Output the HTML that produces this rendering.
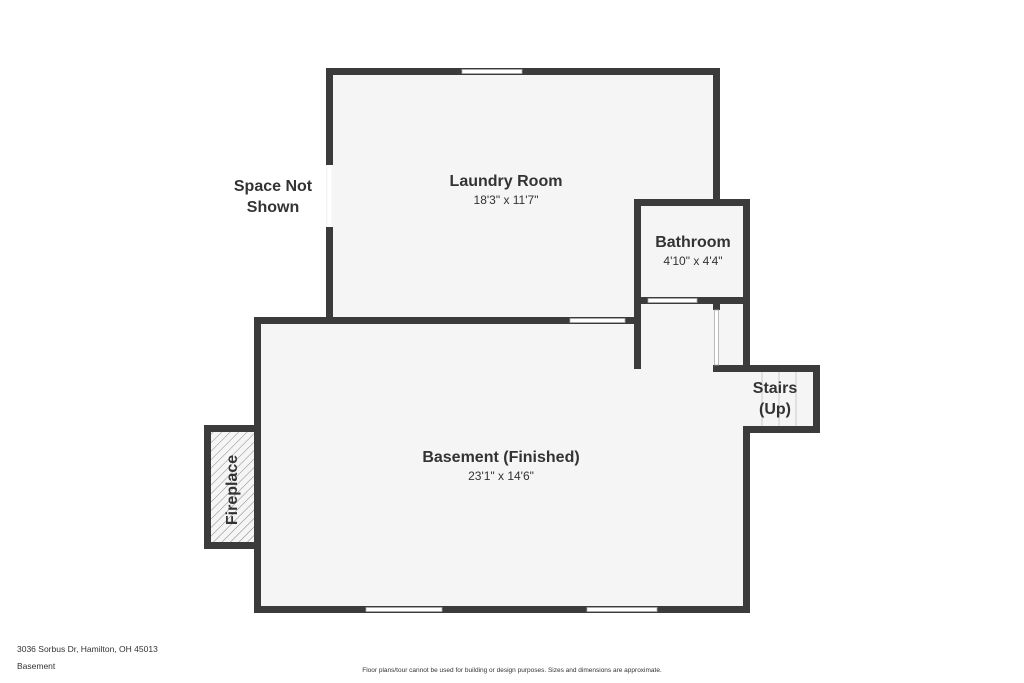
<!DOCTYPE html>
<html><head><meta charset="utf-8"><style>
html,body{margin:0;padding:0;background:#fff;}
svg{display:block;}
text{font-family:"Liberation Sans",sans-serif;fill:#333;}
</style></head><body>
<svg width="1024" height="683" viewBox="0 0 1024 683">
<defs>
<pattern id="h" width="6" height="6" patternUnits="userSpaceOnUse" patternTransform="rotate(45)">
<rect width="6" height="6" fill="#f5f5f5"/><line x1="0" y1="0" x2="0" y2="6" stroke="#888" stroke-width="1"/>
</pattern>
</defs>
<g fill="#f5f5f5">
<rect x="326" y="68" width="394" height="256"/>
<rect x="634" y="199" width="116" height="105"/>
<rect x="254" y="317" width="496" height="296"/>
<rect x="634" y="297" width="116" height="75"/>
<rect x="743" y="365" width="77" height="68"/>
</g>
<rect x="204" y="425" width="57" height="124" fill="url(#h)"/>
<g stroke="#ccc" stroke-width="1">
<line x1="762" y1="372" x2="762" y2="426"/><line x1="779" y1="372" x2="779" y2="426"/><line x1="796" y1="372" x2="796" y2="426"/>
</g>
<g fill="#3b3b3b">
<!-- laundry -->
<rect x="326" y="68" width="394" height="7"/>
<rect x="326" y="68" width="7" height="97"/>
<rect x="326" y="227" width="7" height="97"/>
<rect x="713" y="68" width="7" height="132"/>
<!-- bathroom -->
<rect x="634" y="199" width="116" height="7"/>
<rect x="634" y="199" width="7" height="170"/>
<rect x="743" y="199" width="7" height="173"/>
<rect x="634" y="297" width="116" height="7"/>
<rect x="713" y="297" width="7" height="13"/>
<rect x="713" y="365" width="107" height="7"/>
<!-- stairs -->
<rect x="813" y="365" width="7" height="68"/>
<rect x="743" y="426" width="77" height="7"/>
<!-- basement -->
<rect x="254" y="317" width="387" height="7"/>
<rect x="254" y="317" width="7" height="296"/>
<rect x="254" y="606" width="496" height="7"/>
<rect x="743" y="426" width="7" height="187"/>
<!-- fireplace -->
<rect x="204" y="425" width="57" height="7"/>
<rect x="204" y="542" width="57" height="7"/>
<rect x="204" y="425" width="7" height="124"/>
</g>
<g fill="#fff" stroke="#aaa" stroke-width="0.8">
<rect x="462" y="69.5" width="60" height="4"/>
<rect x="570" y="318.5" width="55" height="4"/>
<rect x="648" y="298.5" width="49" height="4"/>
<rect x="714.5" y="310" width="4" height="55"/>
<rect x="366" y="607.5" width="76" height="4"/>
<rect x="587" y="607.5" width="70" height="4"/>
</g>
<rect x="327.5" y="165" width="4" height="62" fill="#fff"/>
<g text-anchor="middle" font-weight="bold">
<text x="506" y="186" font-size="16">Laundry Room</text>
<text x="506" y="204" font-size="12" font-weight="normal">18'3" x 11'7"</text>
<text x="693" y="247" font-size="16">Bathroom</text>
<text x="693" y="265" font-size="12" font-weight="normal">4'10" x 4'4"</text>
<text x="775" y="393" font-size="16">Stairs</text>
<text x="775" y="414" font-size="16">(Up)</text>
<text x="501" y="462" font-size="16">Basement (Finished)</text>
<text x="501" y="480" font-size="12" font-weight="normal">23'1" x 14'6"</text>
<text x="273" y="191" font-size="16">Space Not</text>
<text x="273" y="212" font-size="16">Shown</text>
<text x="0" y="0" font-size="16" transform="translate(237,490) rotate(-90)">Fireplace</text>
</g>
<text x="17" y="652" font-size="8.5">3036 Sorbus Dr, Hamilton, OH 45013</text>
<text x="17" y="669" font-size="8.5">Basement</text>
<text x="512" y="672" font-size="6.5" text-anchor="middle">Floor plans/tour cannot be used for building or design purposes. Sizes and dimensions are approximate.</text>
</svg>
</body></html>
